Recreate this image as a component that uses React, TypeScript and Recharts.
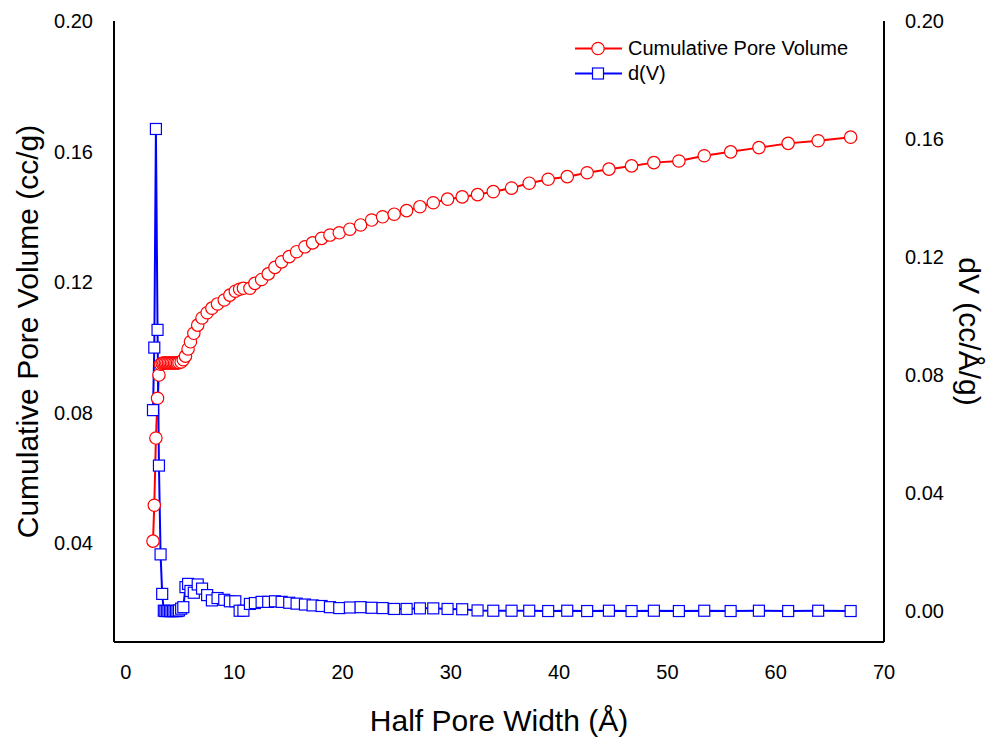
import { LineChart, Line, XAxis, YAxis, Legend, Label } from 'recharts'

// half pore width (Å), shared by both series
const HALF_WIDTH = [
  2.5, 2.62, 2.77, 2.92, 3.05, 3.2, 3.35,
  3.5, 3.64, 3.78, 3.92, 4.06, 4.2, 4.34, 4.48, 4.62, 4.76, 4.9, 5.1, 5.3,
  5.5, 5.74, 5.96, 6.27, 6.63, 7.03, 7.5, 7.94, 8.46, 9.08,
  9.6, 10.1, 10.5, 10.85, 11.45, 11.91, 12.53, 13.14, 13.76, 14.38,
  15.08, 15.76, 16.53, 17.24, 18.07, 18.84, 19.7, 20.68, 21.67, 22.69,
  23.7, 24.77, 25.92, 27.15, 28.38, 29.7, 31.05, 32.47, 33.92, 35.61,
  37.24, 38.99, 40.75, 42.59, 44.6, 46.69, 48.75, 51.06, 53.4, 55.84,
  58.45, 61.15, 63.92, 66.92,
]

// cumulative pore volume (cc/g)
const CUM_VOLUME = [
  0.0406, 0.0516, 0.0722, 0.0844, 0.0915, 0.0948, 0.0951,
  0.0952, 0.0952, 0.0952, 0.0952, 0.0952, 0.0952, 0.0952, 0.0952, 0.0952, 0.0952, 0.0953, 0.0955, 0.0962,
  0.0973, 0.0995, 0.1017, 0.1043, 0.1068, 0.109, 0.1106, 0.112, 0.1133, 0.1145,
  0.116, 0.1172, 0.1178, 0.1181, 0.1181, 0.1196, 0.1208, 0.1225, 0.1245, 0.1262,
  0.1278, 0.1293, 0.1308, 0.132, 0.1334, 0.1344, 0.1351, 0.1362, 0.1375, 0.139,
  0.14, 0.1408, 0.1419, 0.1431, 0.1443, 0.1454, 0.1461, 0.1468, 0.1477, 0.1488,
  0.1503, 0.1515, 0.1523, 0.1535, 0.1546, 0.1556, 0.1566, 0.1571, 0.1587, 0.1599,
  0.1612, 0.1625, 0.1633, 0.1644,
]

// dV (cc/Å/g)
const DV = [
  0.0681, 0.0893, 0.1634, 0.0953, 0.0493, 0.0192, 0.0058,
  0.0001, 0, 0, 0, 0, 0, 0, 0, 0, 0, 0.0002, 0.0008, 0.0013,
  0.0081, 0.0092, 0.0068, 0.0062, 0.009, 0.0076, 0.0054, 0.0036, 0.0044, 0.0038,
  0.0033, 0.0033, 0.0001, 0.0001, 0.0024, 0.0027, 0.0031, 0.0031, 0.0033, 0.0031,
  0.0028, 0.0025, 0.0022, 0.0019, 0.0017, 0.0013, 0.001, 0.0012, 0.0013, 0.0011,
  0.001, 0.0007, 0.0007, 0.0009, 0.0009, 0.0007, 0.0006, 0.0002, 0.0001, 0.0001,
  0.0001, 0, 0.0001, 0, 0.0001, 0, 0.0001, 0, 0.0001, 0,
  0.0001, 0, 0.0001, 0,
]

const X_TICKS = [0, 10, 20, 30, 40, 50, 60, 70]
const LEFT_TICKS = [0.04, 0.08, 0.12, 0.16, 0.2]
const RIGHT_TICKS = [0, 0.04, 0.08, 0.12, 0.16, 0.2]

const RED = '#ff0000'
const BLUE = '#0000ff'
const FONT = '"Liberation Sans", Arial, sans-serif'

const data = HALF_WIDTH.map((x, i) => ({ x, cum: CUM_VOLUME[i], dv: DV[i] }))

function CircleDot(p: any) {
  if (p.cx == null || p.cy == null) return null
  return <circle key={`c-${p.index}`} cx={p.cx} cy={p.cy} r={6.2} fill="#fff" stroke={RED} strokeWidth={1.2} />
}

function SquareDot(p: any) {
  if (p.cx == null || p.cy == null) return null
  return <rect key={`s-${p.index}`} x={p.cx - 5.5} y={p.cy - 5.5} width={11} height={11} fill="#fff" stroke={BLUE} strokeWidth={1.2} />
}

function LegendBox() {
  const rows = [
    { label: 'Cumulative Pore Volume', color: RED, shape: 'circle' },
    { label: 'd(V)', color: BLUE, shape: 'square' },
  ]
  return (
    <div style={{ fontFamily: FONT, fontSize: 20, color: '#000' }}>
      {rows.map((r) => (
        <div key={r.label} style={{ display: 'flex', alignItems: 'center', height: 25 }}>
          <svg width={54} height={25}>
            <line x1={3} y1={12.5} x2={50} y2={12.5} stroke={r.color} strokeWidth={2} />
            {r.shape === 'circle'
              ? <circle cx={26} cy={12.5} r={6.2} fill="#fff" stroke={r.color} strokeWidth={1.2} />
              : <rect x={20.5} y={7} width={11} height={11} fill="#fff" stroke={r.color} strokeWidth={1.2} />}
          </svg>
          <span style={{ marginLeft: 2 }}>{r.label}</span>
        </div>
      ))}
    </div>
  )
}

const tickStyle = { fontSize: 20, fill: '#000', fontFamily: FONT }
const titleStyle = { fontSize: 30, fill: '#000', fontFamily: FONT, textAnchor: 'middle' as const }

export default function App() {
  return (
    <div style={{ position: 'absolute', left: 0, top: 0, width: 992, height: 740, background: '#fff' }}>
      <LineChart width={992} height={740} data={data} margin={{ top: 21, right: 8, bottom: 8, left: 14 }}>
        <XAxis dataKey="x" type="number" domain={[-1.1, 70]} ticks={X_TICKS} allowDataOverflow
          tick={tickStyle} tickSize={0} tickMargin={23} height={90}
          axisLine={{ stroke: '#000', strokeWidth: 2 }} tickLine={false}>
          <Label value="Half Pore Width (Å)" position="center" dy={33} style={titleStyle} />
        </XAxis>
        <XAxis xAxisId="top" orientation="top" type="number" domain={[-1.1, 70]} allowDataOverflow
          height={0} tick={false} tickLine={false} axisLine={{ stroke: '#000', strokeWidth: 2 }} />
        <YAxis yAxisId="left" domain={[0.0097, 0.2]} ticks={LEFT_TICKS} allowDataOverflow width={100}
          tick={tickStyle} tickSize={0} tickMargin={21} tickFormatter={(v: number) => v.toFixed(2)}
          axisLine={{ stroke: '#000', strokeWidth: 2 }} tickLine={false}>
          <Label value="Cumulative Pore Volume (cc/g)" position="center" angle={-90} dx={-37} style={titleStyle} />
        </YAxis>
        <YAxis yAxisId="right" orientation="right" domain={[-0.0105, 0.2]} ticks={RIGHT_TICKS} allowDataOverflow width={100}
          tick={tickStyle} tickSize={0} tickMargin={21} tickFormatter={(v: number) => v.toFixed(2)}
          axisLine={{ stroke: '#000', strokeWidth: 2 }} tickLine={false}>
          <Label value="dV (cc/Å/g)" position="center" angle={90} dx={36} style={titleStyle} />
        </YAxis>
        <Legend layout="horizontal" verticalAlign="middle" align="center" content={<LegendBox />}
          wrapperStyle={{ position: 'absolute', left: 572, top: 36, width: 320 }} />
        <Line yAxisId="left" dataKey="cum" name="Cumulative Pore Volume" stroke={RED} strokeWidth={2}
          dot={CircleDot} activeDot={false} isAnimationActive={false} type="linear" />
        <Line yAxisId="right" dataKey="dv" name="d(V)" stroke={BLUE} strokeWidth={2}
          dot={SquareDot} activeDot={false} isAnimationActive={false} type="linear" />
      </LineChart>
    </div>
  )
}
